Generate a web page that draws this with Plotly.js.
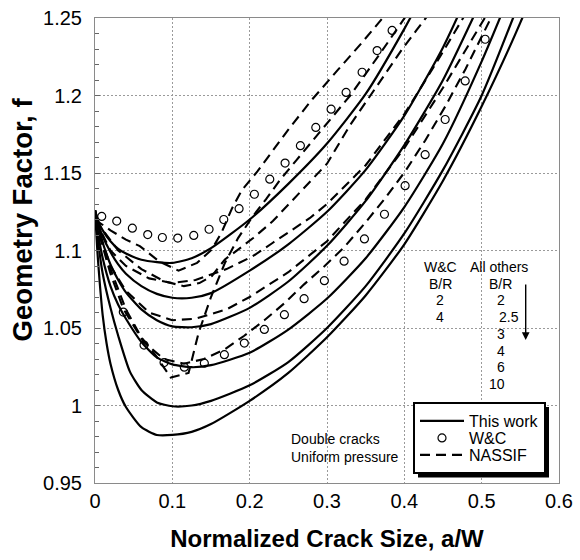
<!DOCTYPE html>
<html>
<head>
<meta charset="utf-8">
<script src="https://cdn.plot.ly/plotly-3.0.1.min.js"></script>
<style>
  html, body { margin: 0; padding: 0; background: #fff; }
  #chart { width: 580px; height: 560px; }
</style>
</head>
<body>
<div id="chart"></div>
<script>
// ---------- This work (solid), B/R = 2, 2.5, 3, 4, 6, 10 ----------
const twX_2  = [0, 0.005, 0.01, 0.02, 0.03, 0.04, 0.06, 0.08, 0.1, 0.125, 0.15, 0.2, 0.25, 0.3, 0.35, 0.4, 0.45];
const twF_2  = [1.126, 1.118, 1.113, 1.106, 1.101, 1.098, 1.094, 1.0925, 1.092, 1.095, 1.1015, 1.12, 1.143, 1.169, 1.201, 1.243, 1.29];
const twX_25 = [0, 0.005, 0.01, 0.02, 0.03, 0.04, 0.06, 0.08, 0.1, 0.125, 0.15, 0.2, 0.25, 0.3, 0.35, 0.4, 0.45, 0.5];
const twF_25 = [1.126, 1.116, 1.109, 1.099, 1.091, 1.085, 1.077, 1.072, 1.0695, 1.0695, 1.0725, 1.087, 1.104, 1.125, 1.152, 1.187, 1.231, 1.285];
const twX_3  = [0, 0.005, 0.01, 0.02, 0.03, 0.04, 0.06, 0.08, 0.1, 0.125, 0.15, 0.2, 0.25, 0.3, 0.35, 0.4, 0.45, 0.5];
const twF_3  = [1.126, 1.114, 1.105, 1.091, 1.081, 1.073, 1.062, 1.055, 1.051, 1.0505, 1.0525, 1.063, 1.08, 1.103, 1.132, 1.168, 1.21, 1.262];
const twX_4  = [0, 0.005, 0.01, 0.02, 0.03, 0.04, 0.06, 0.08, 0.1, 0.125, 0.15, 0.2, 0.25, 0.3, 0.35, 0.4, 0.45, 0.5, 0.55];
const twF_4  = [1.126, 1.108, 1.095, 1.077, 1.065, 1.056, 1.041, 1.031, 1.0265, 1.0247, 1.026, 1.034, 1.049, 1.069, 1.095, 1.128, 1.169, 1.222, 1.282];
const twX_6  = [0, 0.005, 0.01, 0.02, 0.03, 0.045, 0.06, 0.08, 0.1, 0.125, 0.15, 0.2, 0.25, 0.3, 0.35, 0.4, 0.45, 0.5, 0.55];
const twF_6  = [1.126, 1.102, 1.085, 1.063, 1.045, 1.022, 1.01, 1.002, 0.9995, 1.0, 1.003, 1.013, 1.028, 1.05, 1.077, 1.111, 1.152, 1.2, 1.262];
const twX_10 = [0, 0.003, 0.006, 0.01, 0.015, 0.02, 0.03, 0.04, 0.06, 0.08, 0.1, 0.125, 0.15, 0.2, 0.25, 0.3, 0.35, 0.4, 0.45, 0.5, 0.55, 0.6];
const twF_10 = [1.126, 1.1, 1.08, 1.058, 1.04, 1.027, 1.01, 0.999, 0.986, 0.981, 0.981, 0.983, 0.988, 1.003, 1.021, 1.044, 1.071, 1.104, 1.145, 1.193, 1.247, 1.31];

// ---------- W&C (circles), B/R = 2, 4 ----------
const wcX_2 = [0.0087, 0.0281, 0.0483, 0.0682, 0.0871, 0.107, 0.1277, 0.1475, 0.1665, 0.1863, 0.2061, 0.226, 0.2458, 0.2656, 0.2855, 0.3053, 0.3247, 0.3454, 0.3648, 0.3842];
const wcF_2 = [1.122, 1.119, 1.1144, 1.1103, 1.1084, 1.108, 1.1097, 1.1137, 1.12, 1.127, 1.1363, 1.146, 1.1564, 1.1676, 1.1794, 1.1912, 1.202, 1.215, 1.229, 1.242];
const wcX_4 = [0.0366, 0.0634, 0.0893, 0.1155, 0.1414, 0.1673, 0.1931, 0.219, 0.2449, 0.2704, 0.2966, 0.3221, 0.3484, 0.3743, 0.401, 0.4269, 0.4528, 0.4787, 0.5045];
const wcF_4 = [1.0603, 1.039, 1.0277, 1.0247, 1.0273, 1.0328, 1.0403, 1.0491, 1.0586, 1.0689, 1.0805, 1.0931, 1.1075, 1.1234, 1.1418, 1.1618, 1.1845, 1.2094, 1.2363];

// ---------- NASSIF (dashed) ----------
const nsX_a = [0, 0.02, 0.04, 0.058, 0.083, 0.108, 0.132, 0.151, 0.164, 0.177, 0.19, 0.21, 0.25, 0.28, 0.314, 0.345, 0.372, 0.38];
const nsF_a = [1.12, 1.113, 1.107, 1.1028, 1.093, 1.087, 1.092, 1.1006, 1.112, 1.127, 1.139, 1.151, 1.178, 1.197, 1.2165, 1.234, 1.25, 1.255];
const nsX_b = [0, 0.02, 0.04, 0.06, 0.079, 0.098, 0.121, 0.134, 0.15, 0.168, 0.185, 0.204, 0.221, 0.24, 0.26, 0.29, 0.33, 0.37, 0.395, 0.41];
const nsF_b = [1.12, 1.088, 1.062, 1.044, 1.032, 1.018, 1.021, 1.047, 1.07, 1.092, 1.108, 1.122, 1.133, 1.146, 1.158, 1.176, 1.2, 1.228, 1.246, 1.257];
const nsX_c = [0, 0.03, 0.06, 0.09, 0.115, 0.135, 0.151, 0.168, 0.185, 0.205, 0.23, 0.254, 0.278, 0.3, 0.33, 0.364, 0.398, 0.416, 0.428, 0.44];
const nsF_c = [1.12, 1.1, 1.088, 1.08, 1.077, 1.079, 1.0835, 1.0942, 1.1006, 1.1082, 1.119, 1.1317, 1.1446, 1.156, 1.181, 1.2058, 1.2305, 1.2423, 1.25, 1.258];
const nsX_d = [0, 0.02, 0.04, 0.07, 0.1, 0.13, 0.17, 0.204, 0.23, 0.256, 0.278, 0.3, 0.35, 0.4, 0.44, 0.476, 0.49];
const nsF_d = [1.12, 1.1, 1.09, 1.082, 1.079, 1.081, 1.088, 1.0963, 1.105, 1.1135, 1.121, 1.13, 1.155, 1.188, 1.22, 1.25, 1.262];
const nsX_e = [0, 0.02, 0.04, 0.07, 0.1, 0.13, 0.17, 0.2, 0.25, 0.3, 0.35, 0.4, 0.45, 0.504, 0.52];
const nsF_e = [1.12, 1.09, 1.074, 1.06, 1.055, 1.056, 1.062, 1.07, 1.086, 1.106, 1.133, 1.166, 1.205, 1.25, 1.265];
const nsX_f = [0, 0.02, 0.037, 0.063, 0.089, 0.115, 0.141, 0.167, 0.193, 0.219, 0.245, 0.27, 0.297, 0.322, 0.348, 0.374, 0.401, 0.427, 0.453, 0.479, 0.505, 0.52];
const nsF_f = [1.12, 1.085, 1.062, 1.041, 1.03, 1.027, 1.03, 1.036, 1.045, 1.055, 1.066, 1.078, 1.09, 1.102, 1.117, 1.133, 1.151, 1.171, 1.193, 1.217, 1.243, 1.258];

// ---------- tick labels / texts ----------
const xTicks = [0, 0.1, 0.2, 0.3, 0.4, 0.5, 0.6];
const yTicks = [0.95, 1, 1.05, 1.1, 1.15, 1.2, 1.25];
const brOthers = ['2', '2.5', '3', '4', '6', '10'];
const brWC = ['2', '4'];

const FONT = 'Arial, "Liberation Sans", sans-serif';

const solidSets = [[twX_2, twF_2], [twX_25, twF_25], [twX_3, twF_3], [twX_4, twF_4], [twX_6, twF_6], [twX_10, twF_10]];
const dashSets = [[nsX_a, nsF_a], [nsX_b, nsF_b], [nsX_c, nsF_c], [nsX_d, nsF_d], [nsX_e, nsF_e], [nsX_f, nsF_f]];
const wcSets = [[wcX_2, wcF_2], [wcX_4, wcF_4]];

const traces = [];
solidSets.forEach((s, i) => traces.push({
  x: s[0], y: s[1], type: 'scatter', mode: 'lines', name: 'This work',
  showlegend: i === 0,
  line: {color: '#000', width: 2.2, shape: 'spline', smoothing: 0.6}
}));
wcSets.forEach((s, i) => traces.push({
  x: s[0], y: s[1], type: 'scatter', mode: 'markers', name: 'W&C',
  showlegend: i === 0,
  marker: {symbol: 'circle-open', size: 8, color: '#000', line: {width: 1.2, color: '#000'}}
}));
dashSets.forEach((s, i) => traces.push({
  x: s[0], y: s[1], type: 'scatter', mode: 'lines', name: 'NASSIF',
  showlegend: i === 0,
  line: {color: '#000', width: 2.1, dash: '10px,6px'}
}));

// paper-coordinate helpers (plot area: x 95..559, y 18..483)
const L = 95, T = 18, W = 464, H = 465;
const px = v => (v - L) / W;
const py = v => (T + H - v) / H;

const txtFont = {family: FONT, size: 14, color: '#000'};
const annotations = [
  {text: 'W&C', x: px(440), y: py(267)},
  {text: 'All others', x: px(499), y: py(267)},
  {text: 'B/R', x: px(440), y: py(283.5)},
  {text: 'B/R', x: px(500), y: py(283.5)},
];
const wcRows = [300, 317];
brWC.forEach((t, i) => annotations.push({text: t, x: px(440), y: py(wcRows[i])}));
const otRows = [300, 317.3, 334.3, 350.5, 367.3, 384];
brOthers.forEach((t, i) => {
  if (t.indexOf('.') >= 0) annotations.push({text: t, x: px(497), y: py(otRows[i]), xanchor: 'left'});
  else annotations.push({text: t, x: px(507), y: py(otRows[i]), xanchor: 'right'});
});
annotations.forEach(a => { a.xref = 'paper'; a.yref = 'paper'; a.showarrow = false; a.font = txtFont; if (!a.xanchor) a.xanchor = 'center'; a.yanchor = 'middle'; });
annotations.push({
  text: 'Double cracks<br>Uniform pressure', xref: 'paper', yref: 'paper',
  x: px(289), y: py(448), xanchor: 'left', yanchor: 'middle', align: 'left',
  showarrow: false, font: txtFont
});
annotations.push({
  text: '', xref: 'paper', yref: 'paper', x: px(525.7), y: py(340),
  showarrow: true, ax: 0, ay: -57, arrowhead: 2, arrowsize: 1.1, arrowwidth: 1.4, arrowcolor: '#000'
});

const layout = {
  width: 580, height: 560,
  margin: {l: L, r: 580 - L - W, t: T, b: 560 - T - H},
  paper_bgcolor: '#fff', plot_bgcolor: '#fff',
  font: {family: FONT, size: 20, color: '#000'},
  showlegend: true,
  legend: {
    x: px(413), y: py(402), xanchor: 'left', yanchor: 'top',
    bgcolor: '#fff', bordercolor: '#000', borderwidth: 2,
    font: {family: FONT, size: 16, color: '#000'},
    itemwidth: 44, traceorder: 'normal'
  },
  xaxis: {
    range: [0, 0.6], tickvals: xTicks, ticktext: xTicks.map(String),
    showgrid: true, gridcolor: '#9a9a9a', griddash: '2px,2px', gridwidth: 1,
    zeroline: false, showline: true, linecolor: '#8a8a8a', linewidth: 1, mirror: true,
    ticks: '', tickfont: {family: FONT, size: 20, color: '#000'},
    title: {text: '<b>Normalized Crack Size, a/W</b>', font: {family: FONT, size: 24, color: '#000'}, standoff: 19}
  },
  yaxis: {
    range: [0.95, 1.25], tickvals: yTicks, ticktext: yTicks.map(String),
    showgrid: true, gridcolor: '#9a9a9a', griddash: '2px,2px', gridwidth: 1,
    zeroline: false, showline: true, linecolor: '#8a8a8a', linewidth: 1, mirror: true,
    ticks: 'inside', ticklen: 5, tickcolor: '#666', ticklabelstandoff: 8,
    minor: {dtick: 0.01, ticks: 'inside', ticklen: 4, tickcolor: '#666', showgrid: false},
    tickfont: {family: FONT, size: 20, color: '#000'},
    title: {text: '<b>\u00a0\u00a0\u00a0\u00a0\u00a0\u00a0\u00a0\u00a0Geometry Factor, f</b>', font: {family: FONT, size: 27.5, color: '#000'}, standoff: 2}
  },
  annotations: annotations
};

const ROW = 17; // legend row spacing in the reference

Plotly.newPlot('chart', traces, layout, {staticPlot: true, displayModeBar: false}).then(gd => {
  const bg = gd.querySelector('.legend .bg');
  if (!bg) return;
  const items = Array.from(gd.querySelectorAll('.legend .traces'));
  const pos = items.map(it => {
    const m = /translate\(\s*([-\d.e]+)[ ,]+([-\d.e]+)\s*\)/.exec(it.getAttribute('transform') || '');
    return m ? [parseFloat(m[1]), parseFloat(m[2])] : null;
  });
  let shrink = 0;
  if (items.length > 1 && pos.every(Boolean)) {
    const sp = pos[1][1] - pos[0][1];
    if (sp > ROW) shrink = sp - ROW;
  }
  const r = bg.getBoundingClientRect();
  const g = gd.getBoundingClientRect();
  const left = r.left - g.left, top = r.top - g.top;
  const hgt = r.height - shrink * (items.length - 1);
  const off = 4;
  const compact = () => {
    if (!shrink) return;
    const items2 = Array.from(gd.querySelectorAll('.legend .traces'));
    items2.forEach((it, i) => {
      if (pos[i]) it.setAttribute('transform', 'translate(' + pos[i][0] + ',' + (pos[i][1] - i * shrink) + ')');
    });
    const bg2 = gd.querySelector('.legend .bg');
    const h0 = parseFloat(bg2.getAttribute('height'));
    if (!isNaN(h0)) bg2.setAttribute('height', h0 - shrink * (items.length - 1));
  };
  return Plotly.relayout(gd, {shapes: [{
    type: 'rect', xref: 'paper', yref: 'paper', layer: 'above',
    x0: px(left + off), x1: px(left + r.width + off),
    y0: py(top + hgt + off), y1: py(top + off),
    fillcolor: '#000', line: {width: 0}
  }]}).then(compact);
});
</script>
</body>
</html>
